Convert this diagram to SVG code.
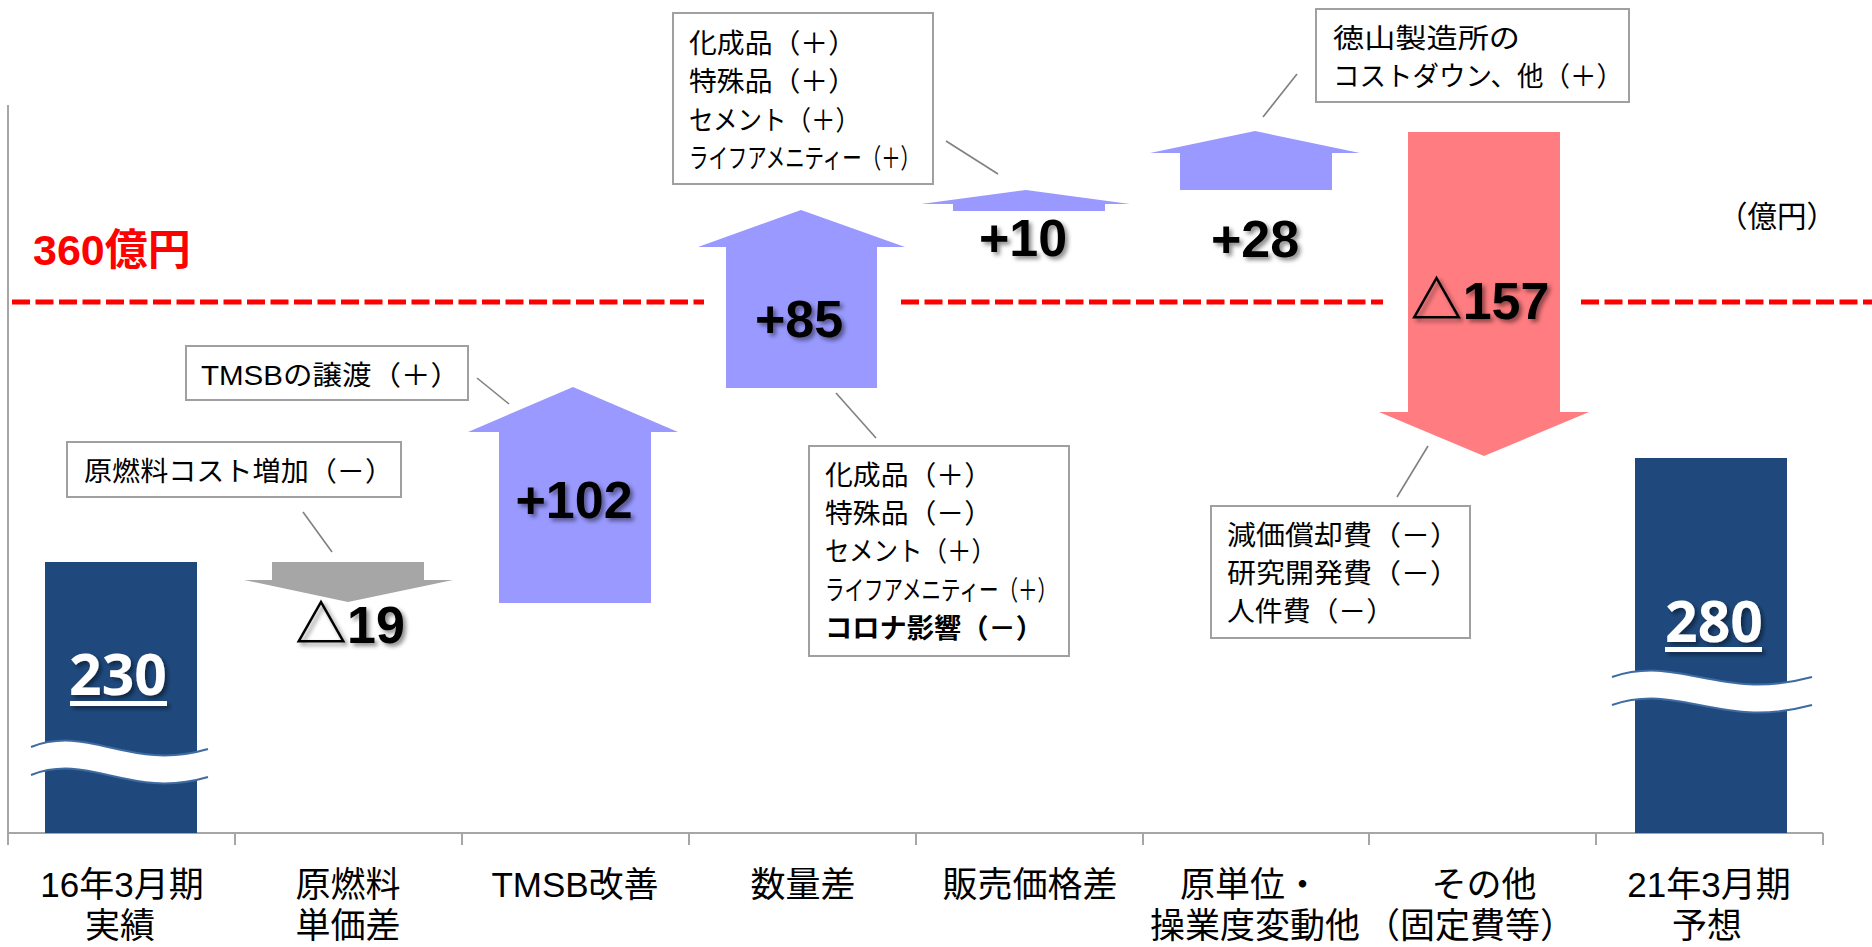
<svg xmlns="http://www.w3.org/2000/svg" width="1872" height="947" viewBox="0 0 1872 947">
<style>
.box{fill:#fff;stroke:#A0A0A0;stroke-width:2}
.lead{stroke:#808080;stroke-width:1.6;fill:none}
.bt{font-family:"Noto Sans CJK JP",sans-serif;font-size:27px;fill:#000}
.big{font-family:"Liberation Sans","Noto Sans CJK JP",sans-serif;font-weight:bold;font-size:52px;fill:#000;text-anchor:middle}
.tri{font-family:"Noto Sans CJK JP",sans-serif;font-weight:900}
.cat{font-family:"Liberation Sans","Noto Sans CJK JP",sans-serif;font-size:35px;fill:#000;text-anchor:middle}
.tot{font-family:"Open Sans","Liberation Sans",sans-serif;font-weight:bold;font-size:57px;fill:#fff;text-anchor:middle}
.bar{fill:#1F497D}
.up{fill:#9999FF}
.axis{stroke:#A6A6A6;stroke-width:2;fill:none}
.dash{stroke:#FF0000;stroke-width:5;stroke-dasharray:18 5.5;fill:none}
.wave{fill:#fff}
.wedge{fill:none;stroke:#3F6BA3;stroke-width:2}
</style>
<defs>
<filter id="sh" x="-20%" y="-20%" width="140%" height="140%">
<feDropShadow dx="3" dy="3" stdDeviation="2" flood-color="#000" flood-opacity="0.45"/>
</filter>
</defs>
<rect width="1872" height="947" fill="#fff"/>

<g id="axes">
<line class="axis" x1="8" y1="105" x2="8" y2="845"/>
<line class="axis" x1="8" y1="833" x2="1823" y2="833"/>
<path class="axis" d="M235,833V845M462,833V845M689,833V845M916,833V845M1143,833V845M1369,833V845M1596,833V845M1823,833V845"/>
</g>

<g id="ref-line">
<path class="dash" d="M12,302H704M901,302H1383M1581,302H1872"/>
<text x="33" y="265" font-family="Liberation Sans,Noto Sans CJK JP,sans-serif" font-weight="bold" font-size="43" fill="#FF0000">360億円</text>
<text x="1718" y="227" font-family="Noto Sans CJK JP,sans-serif" font-size="30" fill="#000" textLength="118" lengthAdjust="spacingAndGlyphs">（億円）</text>
</g>

<g id="bar-2016">
<rect class="bar" x="45" y="562" width="152" height="271"/>
<g filter="url(#sh)">
<text class="tot" x="118" y="695">230</text>
<rect x="70" y="701" width="97" height="5" fill="#fff"/>
</g>
<path class="wave" d="M31,747 C90,724 130,772 208,749 L208,777 C130,800 90,752 31,775 Z"/>
<path class="wedge" d="M31,747 C90,724 130,772 208,749"/>
<path class="wedge" d="M31,775 C90,752 130,800 208,777"/>
</g>

<g id="arrow-fuel">
<polygon fill="#A6A6A6" points="272,562 424,562 424,580 453,580 348,602 244,580 272,580"/>
<text class="big" x="350" y="643" filter="url(#sh)"><tspan class="tri">△</tspan>19</text>
</g>

<g id="arrow-tmsb">
<polygon class="up" points="499,603 499,432 468,432 573,387 678,432 651,432 651,603"/>
<text class="big" x="574" y="518" filter="url(#sh)">+102</text>
</g>

<g id="arrow-volume">
<polygon class="up" points="726,388 726,247 698,247 801,210 905,247 877,247 877,388"/>
<text class="big" x="799" y="337" filter="url(#sh)">+85</text>
</g>

<g id="arrow-price">
<polygon class="up" points="953,211 953,204 921,204 1026,190 1130,204 1105,204 1105,211"/>
<text class="big" x="1023" y="256" filter="url(#sh)">+10</text>
</g>

<g id="arrow-unit">
<polygon class="up" points="1180,190 1180,153 1150,153 1255,131 1360,153 1332,153 1332,190"/>
<text class="big" x="1255" y="257" filter="url(#sh)">+28</text>
</g>

<g id="arrow-other">
<polygon fill="#FF7C80" points="1408,132 1560,132 1560,412 1589,412 1484,456 1379,412 1408,412"/>
<text class="big" x="1480" y="319" font-size="54" filter="url(#sh)"><tspan class="tri">△</tspan>157</text>
</g>

<g id="bar-2021">
<rect class="bar" x="1635" y="458" width="152" height="375"/>
<g filter="url(#sh)">
<text class="tot" x="1714" y="642">280</text>
<rect x="1665" y="647" width="97" height="5" fill="#fff"/>
</g>
<path class="wave" d="M1612,677 C1680,654 1720,702 1812,677 L1812,705 C1720,730 1680,682 1612,705 Z"/>
<path class="wedge" d="M1612,677 C1680,654 1720,702 1812,677"/>
<path class="wedge" d="M1612,705 C1680,682 1720,730 1812,705"/>
</g>

<g id="note-fuel">
<rect class="box" x="67" y="442" width="334" height="55"/>
<text class="bt" x="84" y="481" font-size="28" textLength="309" lengthAdjust="spacingAndGlyphs">原燃料コスト増加（－）</text>
</g>

<g id="note-tmsb">
<rect class="box" x="186" y="346" width="282" height="54"/>
<text class="bt" x="201" y="385" font-size="28" textLength="259" lengthAdjust="spacingAndGlyphs"><tspan font-family="Liberation Sans,sans-serif">TMSB</tspan>の譲渡（＋）</text>
</g>

<g id="note-price">
<rect class="box" x="673" y="13" width="260" height="171"/>
<text class="bt" x="689" y="53" textLength="167" lengthAdjust="spacingAndGlyphs">化成品（＋）</text>
<text class="bt" x="689" y="91" textLength="167" lengthAdjust="spacingAndGlyphs">特殊品（＋）</text>
<text class="bt" x="689" y="130" textLength="171" lengthAdjust="spacingAndGlyphs">セメント（＋）</text>
<text class="bt" x="689" y="168" textLength="231" lengthAdjust="spacingAndGlyphs">ライフアメニティー（＋）</text>
</g>

<g id="note-volume">
<rect class="box" x="809" y="446" width="260" height="210"/>
<text class="bt" x="825" y="485" textLength="167" lengthAdjust="spacingAndGlyphs">化成品（＋）</text>
<text class="bt" x="825" y="523" textLength="167" lengthAdjust="spacingAndGlyphs">特殊品（－）</text>
<text class="bt" x="825" y="561" textLength="171" lengthAdjust="spacingAndGlyphs">セメント（＋）</text>
<text class="bt" x="825" y="600" textLength="232" lengthAdjust="spacingAndGlyphs">ライフアメニティー（＋）</text>
<text class="bt" x="825" y="638" font-weight="bold" textLength="218" lengthAdjust="spacingAndGlyphs">コロナ影響（－）</text>
</g>

<g id="note-unit">
<rect class="box" x="1316" y="9" width="313" height="93"/>
<text class="bt" x="1333" y="48" textLength="187" lengthAdjust="spacingAndGlyphs">徳山製造所の</text>
<text class="bt" x="1333" y="86" textLength="290" lengthAdjust="spacingAndGlyphs">コストダウン、他（＋）</text>
</g>

<g id="note-other">
<rect class="box" x="1211" y="506" width="259" height="132"/>
<text class="bt" x="1227" y="545" textLength="232" lengthAdjust="spacingAndGlyphs">減価償却費（－）</text>
<text class="bt" x="1227" y="583" textLength="232" lengthAdjust="spacingAndGlyphs">研究開発費（－）</text>
<text class="bt" x="1227" y="621" textLength="167" lengthAdjust="spacingAndGlyphs">人件費（－）</text>
</g>

<g id="connectors">
<line class="lead" x1="303" y1="512" x2="332" y2="552"/>
<line class="lead" x1="477" y1="378" x2="509" y2="404"/>
<line class="lead" x1="946" y1="141" x2="998" y2="174"/>
<line class="lead" x1="836" y1="393" x2="876" y2="438"/>
<line class="lead" x1="1263" y1="117" x2="1297" y2="74"/>
<line class="lead" x1="1428" y1="446" x2="1397" y2="497"/>
</g>

<g id="categories">
<text class="cat" x="122" y="897">16年3月期</text>
<text class="cat" x="120" y="938">実績</text>
<text class="cat" x="348" y="897">原燃料</text>
<text class="cat" x="348" y="938">単価差</text>
<text class="cat" x="575" y="897">TMSB改善</text>
<text class="cat" x="803" y="897">数量差</text>
<text class="cat" x="1030" y="897">販売価格差</text>
<text class="cat" x="1250" y="897">原単位・</text>
<text class="cat" x="1255" y="938">操業度変動他</text>
<text class="cat" x="1484" y="897">その他</text>
<text class="cat" x="1470" y="938">（固定費等）</text>
<text class="cat" x="1709" y="897">21年3月期</text>
<text class="cat" x="1707" y="938">予想</text>
</g>
</svg>
